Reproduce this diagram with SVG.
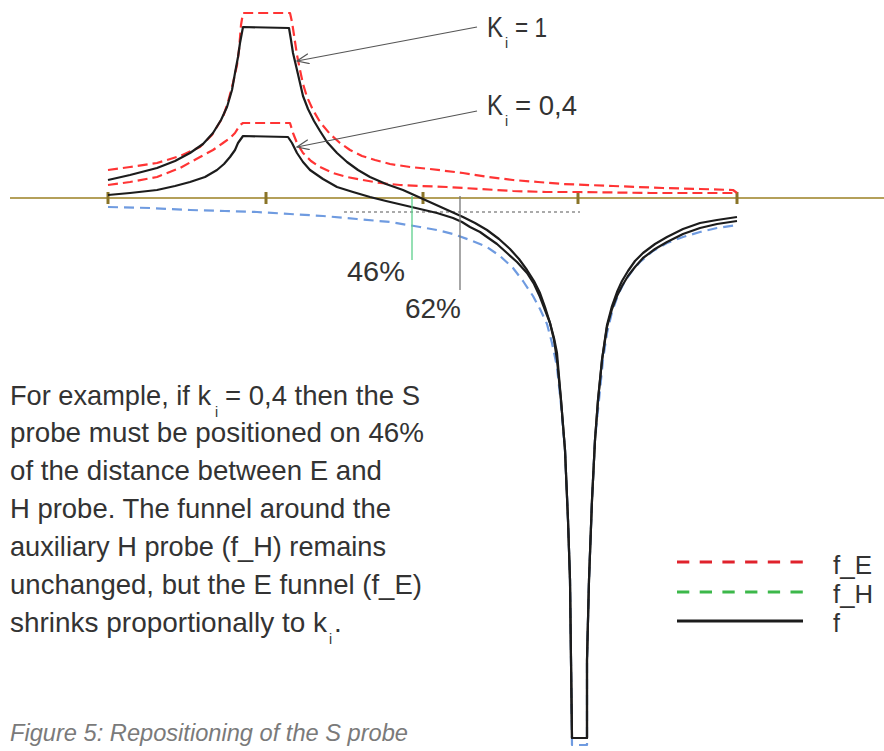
<svg xmlns="http://www.w3.org/2000/svg" width="884" height="751" viewBox="0 0 884 751">
<defs>
<style>
.txt{font-family:"Liberation Sans",Arial,sans-serif;fill:#333;}
.sub{font-family:"Liberation Sans",Arial,sans-serif;fill:#333;font-size:14px;}
.cap{font-family:"Liberation Sans",Arial,sans-serif;fill:#7a7a7a;font-style:italic;font-size:23px;}
.fE{fill:none;stroke:#ff3434;stroke-width:2.2;stroke-dasharray:10 5;stroke-linejoin:round;}
.fH{fill:none;stroke:#6f9be0;stroke-width:2.2;stroke-dasharray:10 6;stroke-linejoin:round;}
.f{fill:none;stroke:#1c1c1c;stroke-width:2.2;stroke-linejoin:round;}
.tick{stroke:#8a7428;stroke-width:3;}
.lead{fill:none;stroke:#555;stroke-width:1.2;}
</style>
<marker id="vhead" markerUnits="userSpaceOnUse" markerWidth="14" markerHeight="12" refX="12" refY="5" orient="auto" viewBox="0 0 14 12">
<path d="M0,0 L12,5 L0,10" fill="none" stroke="#555" stroke-width="1.2"/>
</marker>
</defs>
<rect width="884" height="751" fill="#fff"/>

<g id="axis">
<line x1="10" y1="198" x2="884" y2="198" stroke="#b4a05a" stroke-width="2"/>
<line class="tick" x1="108" y1="192" x2="108" y2="204"/>
<line class="tick" x1="266" y1="192" x2="266" y2="204"/>
<line class="tick" x1="423" y1="192" x2="423" y2="204"/>
<line class="tick" x1="578" y1="192" x2="578" y2="204"/>
<line class="tick" x1="737" y1="192" x2="737" y2="204"/>
<line x1="344" y1="212" x2="580" y2="212" stroke="#aaa" stroke-width="2" stroke-dasharray="3 3"/>
</g>

<g id="curve-fH">
<path class="fH" d="M108,207 L150,208 190,210 225,211 257,212 290,214 323,216 357,219 390,222 420,227 437,230 453,234 470,240 487,247 500,256 513,268 523,281 533,296 540,309 547,324 552,343 557,367 561,405 565,450 568,520 570,580 571,660 572,745 L587,745 L587,660 589,580 592,500 595,440 597,420 600,390 603,360 607,333 612,312 618,295 625,281 632,271 640,262 653,251 667,243 683,237 700,232 717,228 737,225"/>
</g>

<g id="curve-fE-k1">
<path class="fE" d="M108,170 L130,167 157,163 180,156 200,147 212,135 223,117 228,102 233,83 237,65 239,50 241,25 L243,13 L290,13 L292,22 294,35 297,55 300,70 303,84 307,97 313,110 320,122 330,134 340,143 350,150 362,156 375,160 390,164 410,167 430,169 463,173 488,177 513,180 538,182 563,184 613,186 663,188 700,189 733,190 L737,193"/>
</g>

<g id="curve-fE-k04">
<path class="fE" d="M108,185 L130,182 157,177 180,168 200,157 213,150 223,143 230,138 235,133 240,125 243,123 L290,123 L293,133 297,143 303,153 311,161 320,167 333,173 347,177 363,180 380,183 400,185 420,186 447,187 480,189 513,191 546,192 580,192 650,193 733,193 L737,195"/>
</g>

<g id="curve-f-k1">
<path class="f" d="M108,180 L130,175 157,168 175,161 190,153 203,144 213,133 221,120 227,107 232,90 235,73 238,57 240,43 243,27 L289,28 L291,40 293,53 297,70 303,96 308,109 314,121 320,131 327,142 337,153 347,162 358,170 370,177 386,184 403,190 423,199 443,208 463,217 475,223 487,230 499,239 510,249 519,259 527,270 534,281 540,293 545,307 550,323 554,340 557,360 561,400 565,450 568,520 570,580 571,660 572,738 L587,738 L587,660 589,580 592,500 595,440 598,400 602,360 607,325 612,306 617,292 622,281 628,271 635,261 643,253 655,244 667,237 683,229 700,223 717,220 737,217"/>
</g>

<g id="curve-f-k04">
<path class="f" d="M108,195 L130,193 157,190 175,186 190,182 205,177 217,170 224,164 230,157 235,150 238,143 243,136 L288,137 L292,143 297,153 303,162 310,170 323,179 337,187 353,192 370,197 386,201 403,205 420,209 437,213 453,218 462,222 470,227 480,232 487,237 497,244 507,253 517,262 527,273 534,284 540,297 545,310 550,323 554,338 557,353 561,400 565,450 568,520 570,580 571,660 572,738 L587,738 L587,660 589,580 592,500 595,440 598,400 602,360 607,327 612,309 617,296 622,286 628,276 635,267 643,258 655,249 667,242 683,234 700,228 717,224 737,221"/>
</g>

<g id="markers">
<line x1="412" y1="196" x2="412" y2="260" stroke="#5ccf8c" stroke-width="1.3"/>
<line x1="460" y1="196" x2="460" y2="290" stroke="#777" stroke-width="1.3"/>
<text class="txt" x="347" y="281" font-size="27" textLength="58" lengthAdjust="spacingAndGlyphs">46%</text>
<text class="txt" x="405" y="318" font-size="27" textLength="56" lengthAdjust="spacingAndGlyphs">62%</text>
</g>

<g id="connectors">
<line class="lead" x1="477" y1="27" x2="297" y2="61" marker-end="url(#vhead)"/>
<line class="lead" x1="477" y1="111" x2="297" y2="147" marker-end="url(#vhead)"/>
</g>

<g id="label-k1">
<text class="txt" x="487" y="37" font-size="29" textLength="16" lengthAdjust="spacingAndGlyphs">K</text>
<text class="sub" x="505" y="48">i</text>
<text class="txt" x="515" y="37" font-size="28" textLength="32" lengthAdjust="spacingAndGlyphs">= 1</text>
</g>

<g id="label-k04">
<text class="txt" x="487" y="115" font-size="29" textLength="16" lengthAdjust="spacingAndGlyphs">K</text>
<text class="sub" x="505" y="126">i</text>
<text class="txt" x="515" y="115" font-size="28" textLength="62" lengthAdjust="spacingAndGlyphs">= 0,4</text>
</g>

<g id="body-text">
<text class="txt" x="10" y="405" font-size="28" textLength="201" lengthAdjust="spacingAndGlyphs">For example, if k</text>
<text class="sub" x="215" y="417">i</text>
<text class="txt" x="225" y="405" font-size="28" textLength="195" lengthAdjust="spacingAndGlyphs">= 0,4 then the S</text>
<text class="txt" x="10" y="442" font-size="28" textLength="414" lengthAdjust="spacingAndGlyphs">probe must be positioned on 46%</text>
<text class="txt" x="10" y="480" font-size="28" textLength="372" lengthAdjust="spacingAndGlyphs">of the distance between E and</text>
<text class="txt" x="10" y="518" font-size="28" textLength="381" lengthAdjust="spacingAndGlyphs">H probe. The funnel around the</text>
<text class="txt" x="10" y="556" font-size="28" textLength="376" lengthAdjust="spacingAndGlyphs">auxiliary H probe (f_H) remains</text>
<text class="txt" x="10" y="594" font-size="28" textLength="412" lengthAdjust="spacingAndGlyphs">unchanged, but the E funnel (f_E)</text>
<text class="txt" x="10" y="632" font-size="28" textLength="317" lengthAdjust="spacingAndGlyphs">shrinks proportionally to k</text>
<text class="sub" x="329" y="644">i</text>
<text class="txt" x="334" y="632" font-size="28">.</text>
</g>

<g id="legend">
<line x1="677" y1="562" x2="803" y2="562" stroke="#e0222c" stroke-width="3" stroke-dasharray="12.3 10.4"/>
<line x1="677" y1="592" x2="803" y2="592" stroke="#3cb84a" stroke-width="3" stroke-dasharray="12.3 10.4"/>
<line x1="677" y1="621" x2="803" y2="621" stroke="#1c1c1c" stroke-width="3"/>
<text class="txt" x="833" y="574" font-size="25" textLength="39" lengthAdjust="spacingAndGlyphs">f_E</text>
<text class="txt" x="833" y="603" font-size="25" textLength="40" lengthAdjust="spacingAndGlyphs">f_H</text>
<text class="txt" x="833" y="632" font-size="25">f</text>
</g>

<g id="caption">
<text class="cap" x="10" y="741" textLength="398" lengthAdjust="spacingAndGlyphs">Figure 5: Repositioning of the S probe</text>
</g>
</svg>
